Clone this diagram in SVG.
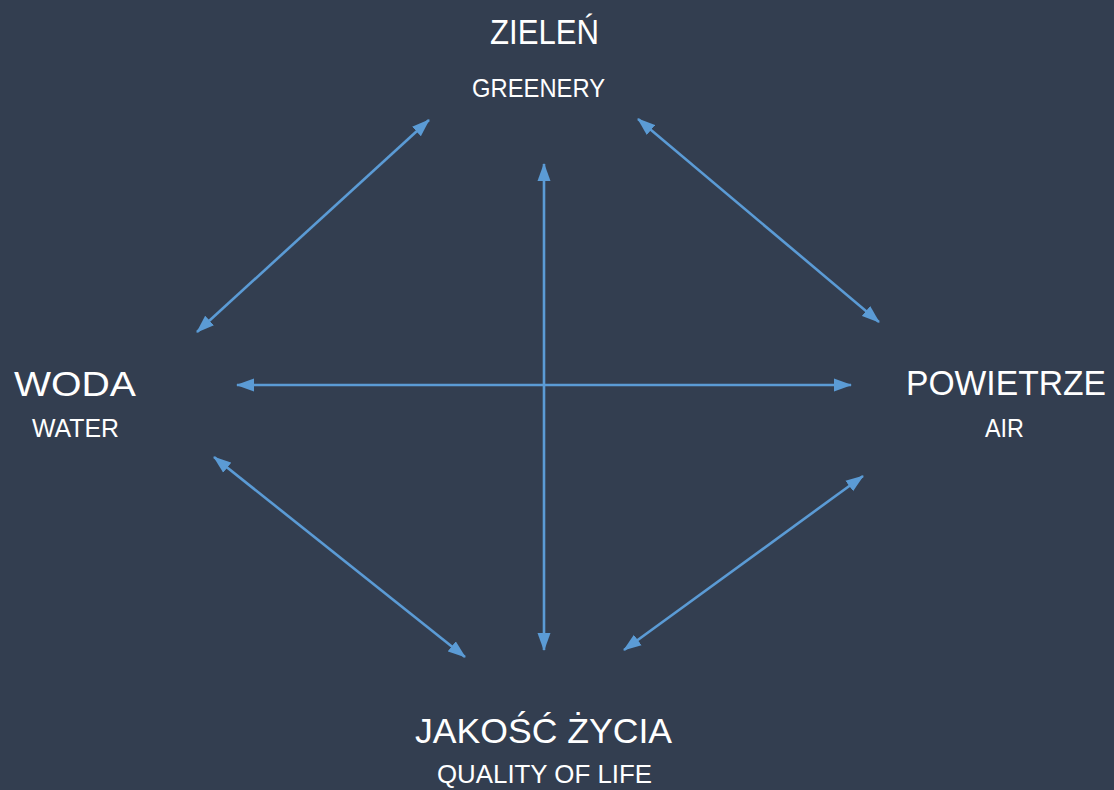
<svg xmlns="http://www.w3.org/2000/svg" width="1114" height="790" viewBox="0 0 1114 790">
<style>
.t{fill:#ffffff;font-family:"Liberation Sans",Arial,sans-serif;text-anchor:middle}
.big{font-size:35px}
.small{font-size:26px}
.c{stroke:#5b9bd5;stroke-width:2.6;fill:none;marker-start:url(#ah);marker-end:url(#ah)}
</style>
<defs>
<marker id="ah" markerUnits="userSpaceOnUse" markerWidth="18" markerHeight="14" refX="17" refY="6.5" orient="auto-start-reverse" viewBox="0 0 18 13">
<path d="M0,0 L18,6.5 L0,13 z" fill="#5b9bd5"/>
</marker>
</defs>
<rect width="1114" height="790" fill="#333e50"/>
<g id="connectors">
<line class="c" x1="544" y1="164" x2="544" y2="650"/>
<line class="c" x1="237" y1="385" x2="851" y2="385"/>
<line class="c" x1="429" y1="120" x2="197" y2="332"/>
<line class="c" x1="638" y1="119" x2="879" y2="322"/>
<line class="c" x1="214" y1="457" x2="465" y2="657"/>
<line class="c" x1="863" y1="476" x2="624" y2="650"/>
</g>
<g id="node-zielen">
<text class="t big" x="544.5" y="44" textLength="109" lengthAdjust="spacingAndGlyphs">ZIELEŃ</text>
<text class="t small" x="538.5" y="97" textLength="133" lengthAdjust="spacingAndGlyphs">GREENERY</text>
</g>
<g id="node-woda">
<text class="t big" x="75" y="396" textLength="122" lengthAdjust="spacingAndGlyphs">WODA</text>
<text class="t small" x="75.5" y="437" textLength="87" lengthAdjust="spacingAndGlyphs">WATER</text>
</g>
<g id="node-powietrze">
<text class="t big" x="1006" y="395" textLength="200" lengthAdjust="spacingAndGlyphs">POWIETRZE</text>
<text class="t small" x="1004.5" y="437" textLength="39" lengthAdjust="spacingAndGlyphs">AIR</text>
</g>
<g id="node-jakosc">
<text class="t big" x="543.5" y="743" textLength="257" lengthAdjust="spacingAndGlyphs">JAKOŚĆ ŻYCIA</text>
<text class="t small" x="544.5" y="783" textLength="215" lengthAdjust="spacingAndGlyphs">QUALITY OF LIFE</text>
</g>
</svg>
